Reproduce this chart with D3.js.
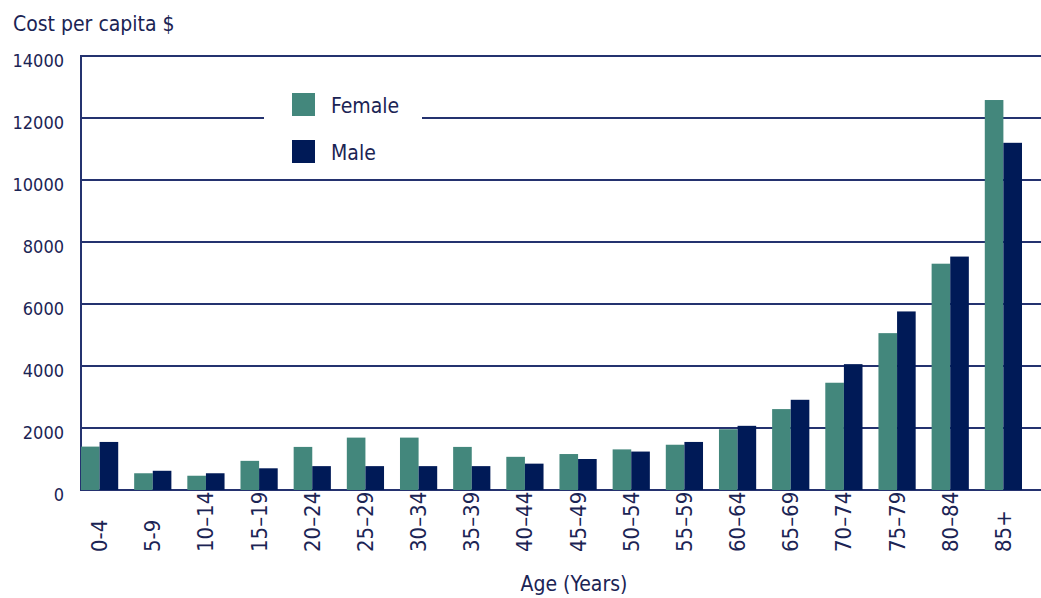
<!DOCTYPE html>
<html>
  <head>
    <meta charset="utf-8" />
    <script src="https://d3js.org/d3.v7.min.js"></script>
    <style>
      body {
        margin: 0;
        background: #fff;
      }
      text {
        font-family: "DejaVu Sans Condensed", "Liberation Sans Narrow", sans-serif;
        fill: #1b2454;
      }
    </style>
  </head>
  <body>
    <div id="my_chart"></div>
    <script>
      // age groups and cost per capita ($)
      const ageGroups = ["0-4", "5-9", "10–14", "15–19", "20–24", "25–29", "30–34", "35–39", "40–44",
        "45–49", "50–54", "55–59", "60–64", "65–69", "70–74", "75–79", "80–84", "85+"];
      const female = [1400, 540, 460, 940, 1390, 1690, 1690, 1390, 1070,
        1160, 1310, 1460, 1960, 2610, 3460, 5060, 7300, 12580];
      const male = [1550, 620, 540, 700, 770, 770, 770, 770, 850,
        1000, 1240, 1550, 2070, 2910, 4060, 5760, 7530, 11200];
      const yTicks = [0, 2000, 4000, 6000, 8000, 10000, 12000, 14000];
      const seriesNames = ["Female", "Male"];

      const width = 1041, height = 598;
      const margin = { top: 56, right: 19, bottom: 108, left: 81 };
      const colors = { Female: "#43877c", Male: "#001a57" };
      const lineColor = "#24326f";

      const svg = d3.select("#my_chart")
        .append("svg")
        .attr("width", width)
        .attr("height", height);

      const x = d3.scaleBand()
        .domain(ageGroups)
        .range([margin.left, width - margin.right])
        .paddingInner(0.3)
        .paddingOuter(0);
      const xSub = d3.scaleBand()
        .domain(seriesNames)
        .range([0, x.bandwidth()]);
      const y = d3.scaleLinear()
        .domain([0, 14000])
        .range([height - margin.bottom, margin.top]);

      // gridlines
      svg.append("g")
        .selectAll("line")
        .data(yTicks)
        .join("line")
        .attr("x1", margin.left)
        .attr("x2", width)
        .attr("y1", (d) => y(d))
        .attr("y2", (d) => y(d))
        .attr("stroke", lineColor)
        .attr("stroke-width", 2);

      // y axis line
      svg.append("line")
        .attr("x1", margin.left)
        .attr("x2", margin.left)
        .attr("y1", y(14000) - 1)
        .attr("y2", y(0) + 1)
        .attr("stroke", lineColor)
        .attr("stroke-width", 2);

      // y tick labels
      svg.append("g")
        .selectAll("text")
        .data(yTicks)
        .join("text")
        .attr("x", 64)
        .attr("y", (d) => y(d) + 6)
        .attr("text-anchor", "end")
        .attr("dominant-baseline", "middle")
        .style("font-size", "18px")
        .text((d) => d);

      // bars
      const rows = ageGroups.map((g, i) => ({ group: g, Female: female[i], Male: male[i] }));
      svg.append("g")
        .selectAll("g")
        .data(rows)
        .join("g")
        .attr("transform", (d) => `translate(${x(d.group)},0)`)
        .selectAll("rect")
        .data((d) => seriesNames.map((k) => ({ key: k, value: d[k] })))
        .join("rect")
        .attr("x", (d) => xSub(d.key))
        .attr("width", xSub.bandwidth())
        .attr("y", (d) => y(d.value))
        .attr("height", (d) => y(0) - y(d.value))
        .attr("fill", (d) => colors[d.key]);

      // x tick labels, rotated
      svg.append("g")
        .selectAll("text")
        .data(ageGroups)
        .join("text")
        .attr("transform", (d) => `translate(${x(d) + x.bandwidth() / 2},552) rotate(-90)`)
        .attr("text-anchor", "start")
        .attr("dominant-baseline", "central")
        .style("font-size", "22px")
        .text((d) => d);

      // axis titles
      svg.append("text")
        .attr("x", 13)
        .attr("y", 31)
        .style("font-size", "21px")
        .text("Cost per capita $");
      svg.append("text")
        .attr("x", 574)
        .attr("y", 591)
        .attr("text-anchor", "middle")
        .style("font-size", "21px")
        .text("Age (Years)");

      // legend, over a white patch that breaks the 12000 gridline
      svg.append("rect")
        .attr("x", 264)
        .attr("y", 88)
        .attr("width", 158)
        .attr("height", 80)
        .attr("fill", "#fff");
      const legend = svg.append("g")
        .selectAll("g")
        .data(seriesNames)
        .join("g")
        .attr("transform", (d, i) => `translate(292,${93 + i * 47})`);
      legend.append("rect")
        .attr("width", 23)
        .attr("height", 23)
        .attr("fill", (d) => colors[d]);
      legend.append("text")
        .attr("x", 39)
        .attr("y", 20)
        .style("font-size", "21px")
        .text((d) => d);
    </script>
  </body>
</html>
